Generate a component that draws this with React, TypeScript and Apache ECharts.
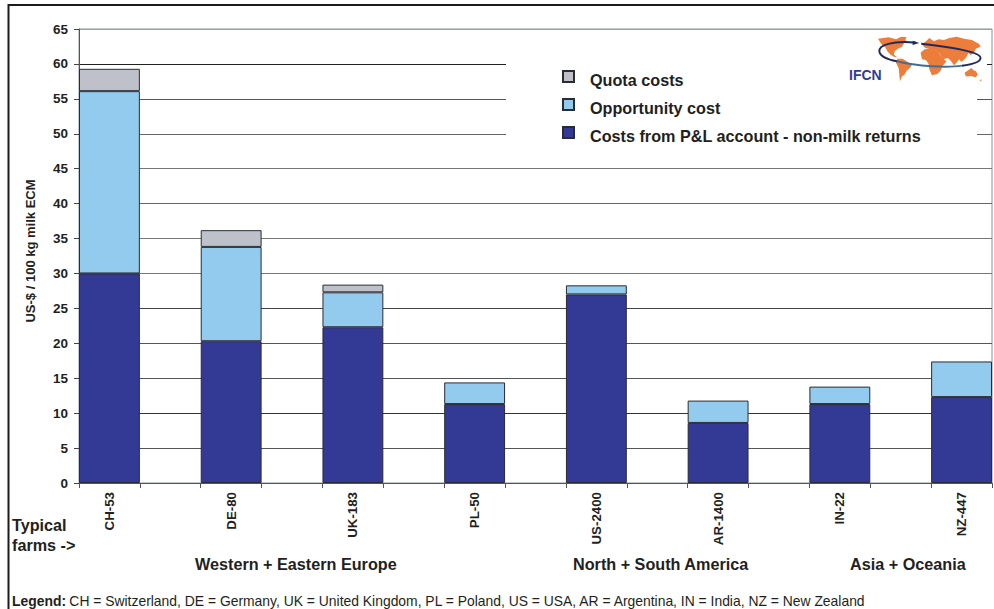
import React, { useEffect, useRef } from "react";
import * as echarts from "echarts";

const farms = ["CH-53", "DE-80", "UK-183", "PL-50", "US-2400", "AR-1400", "IN-22", "NZ-447"];
const plCosts = [30, 20.3, 22.3, 11.3, 27, 8.6, 11.3, 12.3];
const opportunityCost = [26.1, 13.5, 5, 3.1, 1.3, 3.2, 2.5, 5.1];
const quotaCosts = [3.2, 2.4, 1.1, null, null, null, null, null];
const yMin = 0;
const yMax = 65;
const yStep = 5;

const FONT = "Liberation Sans";
const INK = "#231f20";
const gridColors = ["#777", "#555", "#333", "#555", "#555", "#444", "#777", "#777", "#666", "#777", "#666", "#555", "#222", "#99a0a6"];

// Empty slots between farms: each bar fills one band and the gaps are one band wide.
const spaced = <T,>(values: T[], blank: T): T[] =>
  values.flatMap((v, i) => (i < values.length - 1 ? [v, blank] : [v]));

echarts.graphic.registerShape("ifcnAmericaN", echarts.graphic.extendPath("M18,20 L50,16 L72,22 L88,14 L104,16 L100,24 L108,30 L96,34 L90,44 L78,50 L68,58 L66,68 L76,76 L66,74 L56,68 L46,58 L40,46 L28,36 Z", {}));
echarts.graphic.registerShape("ifcnAmericaS", echarts.graphic.extendPath("M76,80 L92,80 L104,88 L120,98 L116,106 L104,116 L98,128 L90,134 L84,148 L82,128 L80,108 L72,92 Z", {}));
echarts.graphic.registerShape("ifcnEurasia", echarts.graphic.extendPath("M148,36 L160,30 L172,18 L186,28 L200,22 L216,24 L232,18 L254,14 L276,20 L300,24 L322,36 L326,44 L312,50 L306,62 L296,70 L290,62 L284,74 L276,84 L268,90 L262,82 L254,92 L246,100 L238,88 L228,78 L214,82 L204,66 L192,56 L176,52 L160,48 Z", {}));
echarts.graphic.registerShape("ifcnAfrica", echarts.graphic.extendPath("M146,62 L158,52 L178,50 L196,56 L206,70 L218,84 L224,88 L212,102 L206,116 L196,126 L180,130 L172,112 L170,96 L162,84 L150,82 Z", {}));
echarts.graphic.registerShape("ifcnAustralia", echarts.graphic.extendPath("M278,122 L290,114 L298,108 L304,114 L312,118 L318,128 L312,136 L296,132 L282,134 Z M322,148 L328,141 L329,146 Z", {}));
echarts.graphic.registerShape("ifcnRingUpper", echarts.graphic.extendPath("M132,32 C60,25 20,40 22,58 C24,72 45,82 75,88 M326,78 C327,60 240,45 148,35", {}));
echarts.graphic.registerShape("ifcnRingLower", echarts.graphic.extendPath("M75,88 C110,97 150,101 180,103 C220,105 250,104 270,101", {}));
echarts.graphic.registerShape("ifcnRingEnd", echarts.graphic.extendPath("M270,101 C305,97 325,90 326,78", {}));
echarts.graphic.registerShape("ifcnArrow", echarts.graphic.extendPath("M122,26 L142,33 L122,39 Z", {}));

const text = (x: number, y: number, value: string, font: string, extra: object = {}) => ({
  type: "text",
  x,
  y,
  z: 6,
  style: { text: value, font, fill: INK, verticalAlign: "middle", ...extra },
});

const landPart = (type: string) => ({ type, z: 6, style: { fill: "#ed7d3b" } });
const ringPart = (type: string, stroke: string) => ({
  type,
  z: 7,
  style: { fill: "none", stroke, lineWidth: 6 },
});

export default function App() {
  const ref = useRef<HTMLDivElement>(null);
  useEffect(() => {
    const chart = echarts.init(ref.current!, null, { renderer: "svg" });
    const barStyle = (color: string) => ({ color, borderColor: "#2b2b33", borderWidth: 1 });
    chart.setOption({
      animation: false,
      backgroundColor: "#fff",
      grid: { left: 79, top: 29, width: 913, height: 454, show: true, borderColor: "#8b9298", borderWidth: 1, backgroundColor: "transparent" },
      legend: {
        orient: "vertical",
        left: 557,
        top: 60,
        icon: "rect",
        itemWidth: 11,
        itemHeight: 11,
        itemGap: 5,
        selectedMode: false,
        data: ["Quota costs", "Opportunity cost", "Costs from P&L account - non-milk returns"],
        formatter: "{a|{name}}",
        textStyle: {
          fontFamily: FONT,
          fontWeight: "bold",
          fontSize: 16.2,
          color: INK,
          padding: [0, 0, 0, 11],
          rich: {
            a: { fontFamily: FONT, fontWeight: "bold", fontSize: 16.2, color: INK, lineHeight: 22, padding: [7, 0, 0, 0] },
          },
        },
      },
      xAxis: {
        type: "category",
        data: spaced(farms, ""),
        boundaryGap: true,
        axisLine: { lineStyle: { color: "#555", width: 1 } },
        axisTick: { show: true, interval: 0, alignWithLabel: false, length: 5, lineStyle: { color: "#555" } },
        axisLabel: { interval: 0, rotate: 90, margin: 9, fontFamily: FONT, fontWeight: "bold", fontSize: 13.3, color: INK },
      },
      yAxis: {
        type: "value",
        min: yMin,
        max: yMax,
        interval: yStep,
        name: "US-$ / 100 kg milk ECM",
        nameLocation: "middle",
        nameGap: 42,
        nameRotate: 90,
        nameTextStyle: { fontFamily: FONT, fontWeight: "bold", fontSize: 13, color: INK, padding: [0, 0, 0, 10] },
        axisLine: { show: true, lineStyle: { color: "#555", width: 1 } },
        axisTick: { show: true, length: 5, lineStyle: { color: "#444" } },
        axisLabel: { margin: 11, fontFamily: FONT, fontWeight: "bold", fontSize: 13.5, color: INK },
        splitLine: { show: true, lineStyle: { color: gridColors, width: 1 } },
      },
      series: [
        { name: "Costs from P&L account - non-milk returns", type: "bar", stack: "cost", barWidth: "100%", itemStyle: barStyle("#333a96"), data: spaced<number | null>(plCosts, null) },
        { name: "Opportunity cost", type: "bar", stack: "cost", barWidth: "100%", itemStyle: barStyle("#93cbee"), data: spaced<number | null>(opportunityCost, null) },
        { name: "Quota costs", type: "bar", stack: "cost", barWidth: "100%", itemStyle: barStyle("#bfc1ca"), data: spaced<number | null>(quotaCosts, null) },
      ],
      graphic: [
        { type: "rect", z: 3, shape: { x: 506, y: 32, width: 471, height: 125 }, style: { fill: "#fff" } },
        { type: "rect", z: 3, shape: { x: 977, y: 50, width: 10, height: 28 }, style: { fill: "#fff" } },
        { type: "line", z: 6, shape: { x1: 8, y1: 5, x2: 994, y2: 5 }, style: { stroke: "#1c1c1c", lineWidth: 2 } },
        { type: "line", z: 6, shape: { x1: 8.5, y1: 4, x2: 8.5, y2: 609 }, style: { stroke: "#1c1c1c", lineWidth: 2 } },
        {
          type: "group",
          x: 872,
          y: 32,
          scaleX: 1 / 3,
          scaleY: 1 / 3,
          children: [
            landPart("ifcnAmericaN"),
            landPart("ifcnAmericaS"),
            landPart("ifcnEurasia"),
            landPart("ifcnAfrica"),
            landPart("ifcnAustralia"),
            ringPart("ifcnRingUpper", "#1f2a5c"),
            ringPart("ifcnRingLower", "#3f6f94"),
            ringPart("ifcnRingEnd", "#1f2a5c"),
            { type: "ifcnArrow", z: 7, style: { fill: "#1f2a5c" } },
          ],
        },
        text(849, 75, "IFCN", `bold 14px "${FONT}"`, { fill: "#333a96" }),
        text(12, 525, "Typical", `bold 16.2px "${FONT}"`),
        text(12, 545, "farms ->", `bold 16.2px "${FONT}"`),
        text(195, 564, "Western + Eastern Europe", `bold 16.2px "${FONT}"`),
        text(573, 564, "North + South America", `bold 16.2px "${FONT}"`),
        text(850, 564, "Asia + Oceania", `bold 16.2px "${FONT}"`),
        {
          type: "text",
          x: 12,
          y: 601,
          z: 6,
          style: {
            text: "{b|Legend:} {r|CH = Switzerland, DE = Germany, UK = United Kingdom, PL = Poland, US = USA, AR = Argentina, IN = India, NZ = New Zealand}",
            verticalAlign: "middle",
            rich: {
              b: { font: `bold 13.9px "${FONT}"`, fill: INK },
              r: { font: `13.9px "${FONT}"`, fill: INK },
            },
          },
        },
      ],
    });
    return () => chart.dispose();
  }, []);
  return <div ref={ref} style={{ position: "fixed", left: 0, top: 0, width: 994, height: 609 }} />;
}
